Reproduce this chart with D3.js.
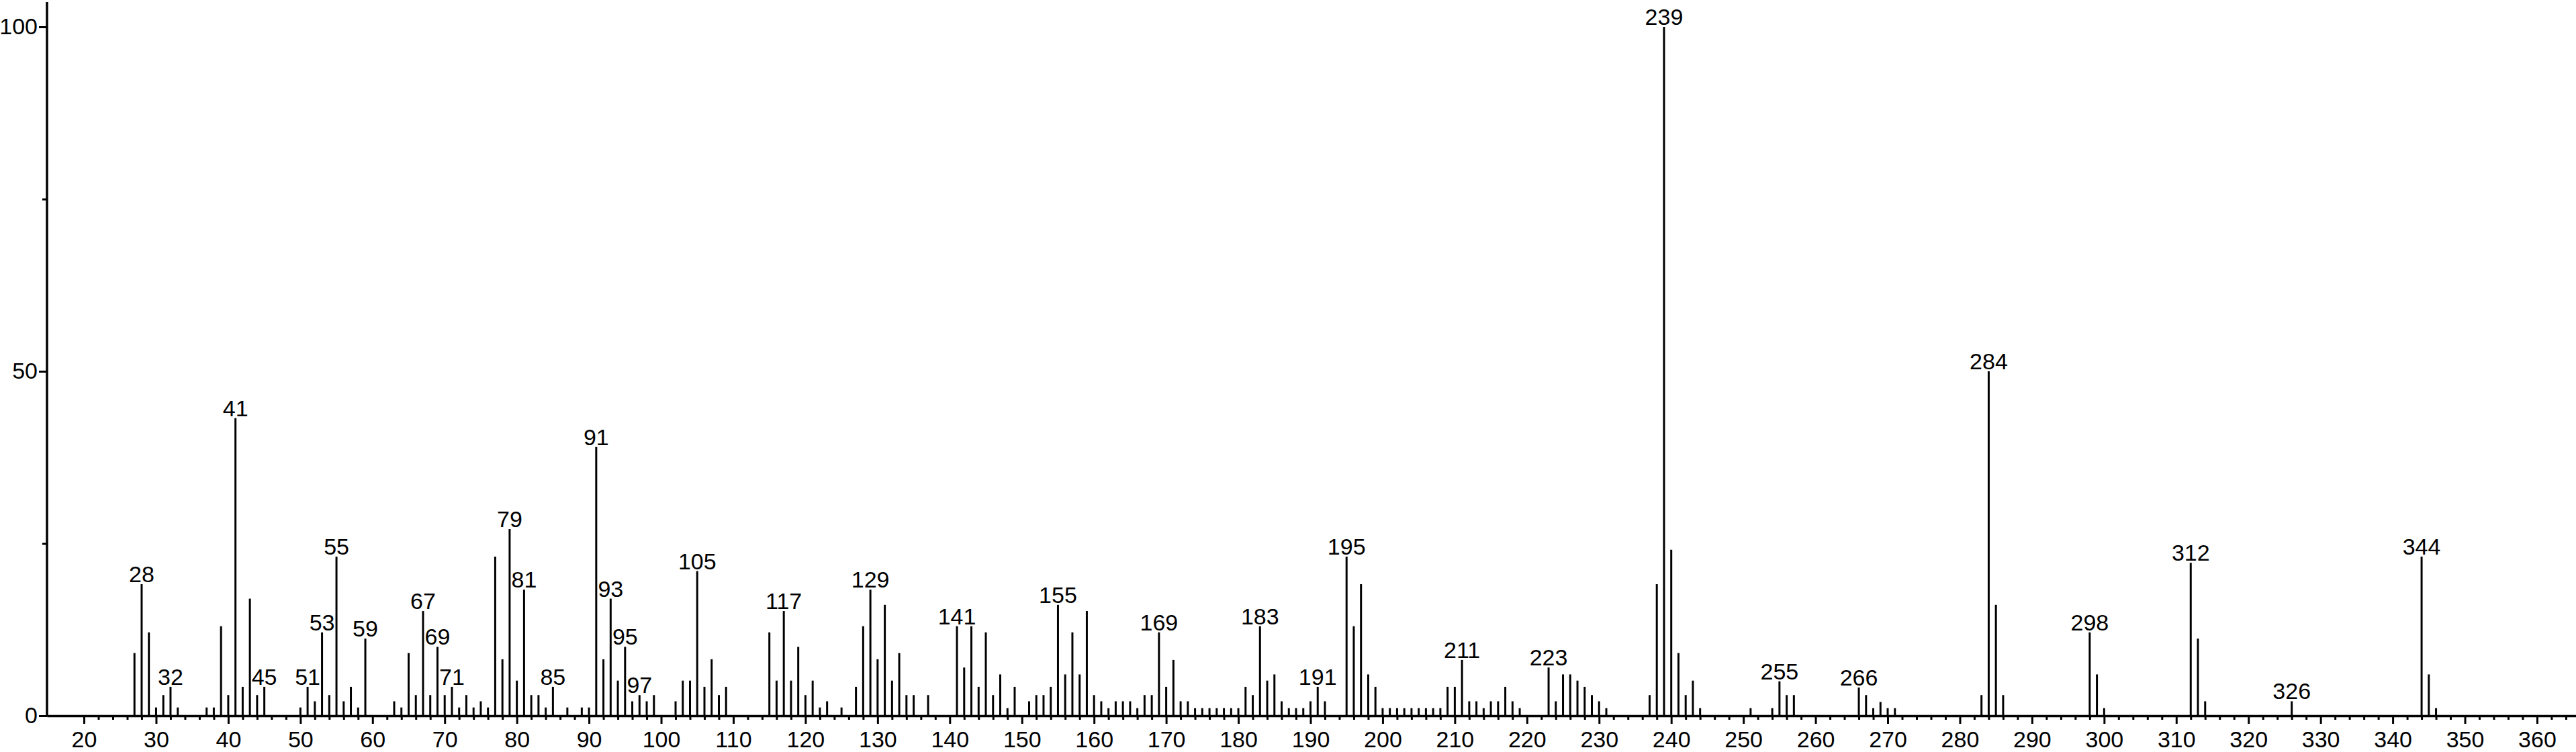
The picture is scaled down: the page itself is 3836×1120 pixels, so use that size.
<!DOCTYPE html>
<html>
<head>
<meta charset="utf-8">
<script src="https://cdn.jsdelivr.net/npm/d3@7"></script>
<style>
  html, body { margin: 0; padding: 0; background: #fff; }
  svg { display: block; }
  text { font-family: "Liberation Sans", Arial, sans-serif; fill: #000; }
</style>
</head>
<body>
<svg id="chart" width="3836" height="1120"></svg>
<script>
// m/z values of the peaks
const mz = [
  27,28,29,30,31,32,33,37,38,39,40,41,42,43,44,45,
  50,51,52,53,54,55,56,57,58,59,
  63,64,65,66,67,68,69,70,71,72,73,74,75,76,77,78,79,80,81,82,83,84,85,87,89,90,
  91,92,93,94,95,96,97,98,99,102,103,104,105,106,107,108,109,
  115,116,117,118,119,120,121,122,123,125,127,128,129,130,131,132,133,134,135,137,
  141,142,143,144,145,146,147,148,149,151,152,153,154,155,156,157,158,159,160,
  161,162,163,164,165,166,167,168,169,170,171,172,173,174,175,176,177,178,179,180,
  181,182,183,184,185,186,187,188,189,190,191,192,
  195,196,197,198,199,200,201,202,203,204,205,206,207,208,209,210,211,212,213,214,215,216,217,218,219,
  223,224,225,226,227,228,229,230,231,
  237,238,239,240,241,242,243,244,
  251,254,255,256,257,266,267,268,269,270,271,
  283,284,285,286,298,299,300,312,313,314,326,344,345,346
];
// relative intensities (%)
const intensity = [
  9.1,19.1,12.1,1.2,3.0,4.2,1.2,1.2,1.2,13.0,3.0,43.2,4.2,17.0,3.0,4.2,
  1.2,4.2,2.1,12.1,3.0,23.1,2.1,4.2,1.2,11.2,
  2.1,1.2,9.1,3.0,15.2,3.0,10.0,3.0,4.2,1.2,3.0,1.2,2.1,1.2,23.1,8.2,27.1,5.1,18.3,3.0,3.0,1.2,4.2,1.2,1.2,1.2,
  39.0,8.2,17.0,5.1,10.0,2.1,3.0,2.1,3.0,2.1,5.1,5.1,21.0,4.2,8.2,3.0,4.2,
  12.1,5.1,15.2,5.1,10.0,3.0,5.1,1.2,2.1,1.2,4.2,13.0,18.3,8.2,16.1,5.1,9.1,3.0,3.0,3.0,
  13.0,7.0,13.0,4.2,12.1,3.0,6.0,1.1,4.2,2.1,3.0,3.0,4.2,16.1,6.0,12.1,6.0,15.2,3.0,
  2.1,1.1,2.1,2.1,2.1,1.1,3.0,3.0,12.1,4.2,8.1,2.1,2.1,1.1,1.1,1.1,1.1,1.1,1.1,1.1,
  4.2,3.0,13.0,5.1,6.0,2.1,1.1,1.1,1.1,2.1,4.2,2.1,
  23.1,13.0,19.1,6.0,4.2,1.1,1.1,1.1,1.1,1.1,1.1,1.1,1.1,1.1,4.2,4.2,8.1,2.1,2.1,1.1,2.1,2.1,4.2,2.1,1.1,
  7.0,2.1,6.0,6.0,5.1,4.2,3.0,2.1,1.1,
  3.0,19.1,100,24.1,9.1,3.0,5.1,1.1,
  1.1,1.1,5.0,3.0,3.0,4.1,3.0,1.1,2.0,1.1,1.1,
  3.0,50,16.1,3.0,12.1,6.0,1.1,22.2,11.2,2.1,2.1,23.1,6.0,1.1
];
// peaks carrying an m/z label
const labeledPeaks = [28,32,41,45,51,53,55,59,67,69,71,79,81,85,91,93,95,97,105,117,129,141,155,169,183,191,195,211,223,239,255,266,284,298,312,326,344];
// axis ticks
const xMajorTicks = d3.range(20, 361, 10);
const xMinorTicks = d3.range(20, 365, 2).filter(v => v % 10 !== 0);
const yMajorTicks = [0, 50, 100];
const yMinorTicks = [25, 75];

const peaks = mz.map((m, i) => ({ m, v: intensity[i] }));

const svg = d3.select("#chart");
const x = d3.scaleLinear().domain([14.88, 365.4]).range([70, 3836]);
const y = d3.scaleLinear().domain([0, 100]).range([1066, 40]);

const FONT = 34;

// X axis minor ticks
const gxMinor = svg.append("g").attr("transform", `translate(0,${y(0)})`)
  .call(d3.axisBottom(x).tickValues(xMinorTicks).tickSize(6).tickSizeOuter(0).tickFormat(""));
gxMinor.select(".domain").remove();
gxMinor.selectAll(".tick line").attr("stroke", "#000").attr("stroke-width", 3);

// X axis major ticks + labels
const gx = svg.append("g").attr("transform", `translate(0,${y(0)})`)
  .call(d3.axisBottom(x).tickValues(xMajorTicks).tickSize(12).tickSizeOuter(0).tickPadding(11).tickFormat(d3.format("d")));
gx.select(".domain").attr("stroke", "#000").attr("stroke-width", 3.5);
gx.selectAll(".tick line").attr("stroke", "#000").attr("stroke-width", 3);
gx.selectAll(".tick text").attr("font-size", FONT).attr("font-family", "Liberation Sans, Arial, sans-serif").attr("fill", "#000");

// Y axis
const gyMinor = svg.append("g").attr("transform", `translate(${x.range()[0]},0)`)
  .call(d3.axisLeft(y).tickValues(yMinorTicks).tickSize(7).tickSizeOuter(0).tickFormat(""));
gyMinor.select(".domain").remove();
gyMinor.selectAll(".tick line").attr("stroke", "#000").attr("stroke-width", 3);

const gy = svg.append("g").attr("transform", `translate(${x.range()[0]},0)`)
  .call(d3.axisLeft(y).tickValues(yMajorTicks).tickSize(12).tickSizeOuter(0).tickPadding(2).tickFormat(d3.format("d")));
gy.select(".domain").remove();
gy.selectAll(".tick line").attr("stroke", "#000").attr("stroke-width", 3);
gy.selectAll(".tick text").attr("font-size", FONT).attr("font-family", "Liberation Sans, Arial, sans-serif").attr("fill", "#000");

svg.append("line")
  .attr("x1", x.range()[0]).attr("x2", x.range()[0])
  .attr("y1", 3).attr("y2", y(0) + 1.5)
  .attr("stroke", "#000").attr("stroke-width", 3.5);

// peak sticks
svg.append("g").selectAll("line").data(peaks).join("line")
  .attr("x1", d => x(d.m)).attr("x2", d => x(d.m))
  .attr("y1", y(0)).attr("y2", d => y(d.v))
  .attr("stroke", "#000").attr("stroke-width", 3);

// peak labels
const labelSet = new Set(labeledPeaks);
svg.append("g").selectAll("text").data(peaks.filter(d => labelSet.has(d.m))).join("text")
  .attr("x", d => x(d.m))
  .attr("y", d => y(d.v) - 3)
  .attr("text-anchor", "middle")
  .attr("font-size", FONT)
  .text(d => d.m);
</script>
</body>
</html>
